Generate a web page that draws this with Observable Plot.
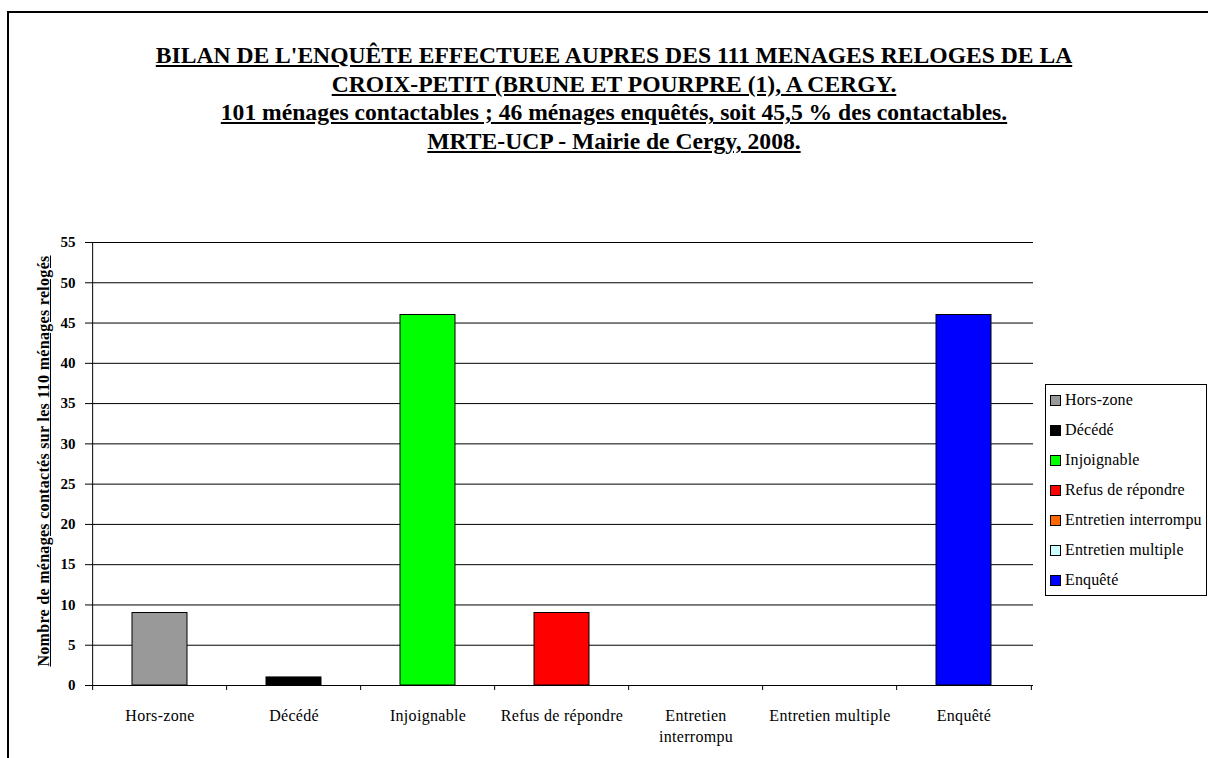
<!DOCTYPE html>
<html>
<head>
<meta charset="utf-8">
<script src="https://cdn.jsdelivr.net/npm/d3@7"></script>
<script src="https://cdn.jsdelivr.net/npm/@observablehq/plot@0.6"></script>
<style>
  html, body { margin: 0; padding: 0; background: #fff; }
  body { width: 1208px; height: 758px; position: relative; overflow: hidden; font-family: "Liberation Serif", "Times New Roman", serif; }
  #frame { position: absolute; left: 7px; top: 11px; width: 1300px; height: 900px; border: 2px solid #000; box-sizing: border-box; }
  #title { position: absolute; left: 8px; width: 1212px; top: 41px; text-align: center; font-weight: bold; font-size: 23.6px; line-height: 28.7px; text-decoration: underline; }
  #chart { position: absolute; left: 0; top: 200px; }
  #ylabel { position: absolute; left: 44px; top: 461px; transform: translate(-50%, -50%) rotate(-90deg); white-space: nowrap; font-weight: bold; font-size: 16px; text-decoration: underline; letter-spacing: 0.3px; }
  #legend { position: absolute; left: 1045px; top: 384px; width: 162px; height: 212px; border: 1px solid #000; box-sizing: border-box; padding-top: 0px; font-size: 16px; letter-spacing: 0.15px; }
  .row { height: 30px; display: flex; align-items: center; padding-left: 4px; }
  .sw { width: 9px; height: 9px; border: 1px solid #000; margin-right: 4px; flex: none; }
  #chart g[aria-label="y-axis tick label"] text { font-weight: bold; font-size: 15px; }
  #chart g[aria-label="x-axis tick label"] text { font-size: 16px; letter-spacing: 0.3px; }
</style>
</head>
<body>
<div id="frame"></div>
<div id="title"></div>
<div id="chart"></div>
<div id="ylabel"></div>
<div id="legend"></div>
<script>
const categories = ["Hors-zone", "Décédé", "Injoignable", "Refus de répondre", "Entretien interrompu", "Entretien multiple", "Enquêté"];
const values = [9, 1, 46, 9, 0, 0, 46];
const colors = ["#999999", "#000000", "#00ff00", "#ff0000", "#ff6600", "#ccffff", "#0000ff"];
const xTickLabels = ["Hors-zone", "Décédé", "Injoignable", "Refus de répondre", "Entretien\ninterrompu", "Entretien multiple", "Enquêté"];
const yTicks = [0, 5, 10, 15, 20, 25, 30, 35, 40, 45, 50, 55];
const titleLines = [
  "BILAN DE L'ENQUÊTE EFFECTUEE AUPRES DES 111 MENAGES RELOGES DE LA",
  "CROIX-PETIT (BRUNE ET POURPRE (1), A CERGY.",
  "101 ménages contactables ; 46 ménages enquêtés, soit 45,5 % des contactables.",
  "MRTE-UCP - Mairie de Cergy, 2008."
];
const yLabel = "Nombre de ménages contactés sur les 110 ménages relogés";

const data = categories.map((c, i) => ({cat: c, value: values[i]}));
const labelMap = new Map(categories.map((c, i) => [c, xTickLabels[i]]));

const W = 1040, H = 550, ML = 90, MR = 7, MT = 42, MB = 65;
const step = (W - ML - MR) / categories.length;

const chart = Plot.plot({
  width: W, height: H,
  marginLeft: ML, marginRight: MR, marginTop: MT, marginBottom: MB,
  style: {fontFamily: "'Liberation Serif', 'Times New Roman', serif", fontSize: "16px", background: "transparent", color: "#000", overflow: "visible"},
  x: {domain: categories, padding: 0.59, paddingOuter: 0.295, label: null},
  y: {domain: [0, 55], label: null},
  color: {domain: categories, range: colors},
  marks: [
    Plot.gridY(yTicks, {stroke: "#000", strokeOpacity: 1, strokeWidth: 1}),
    Plot.barY(data, {x: "cat", y: "value", fill: "cat", stroke: "#000", strokeWidth: 1}),
    Plot.ruleY([0], {stroke: "#000", strokeWidth: 1}),
    Plot.ruleX([categories[0]], {y1: 0, y2: 55, dx: -step / 2, stroke: "#000", strokeWidth: 1}),
    Plot.axisY({ticks: yTicks, tickSize: 5, tickPadding: 10, label: null, fontWeight: "bold", stroke: "#000"}),
    Plot.axisX({ticks: categories, tickSize: 5, tickFormat: () => "", dx: -step / 2, label: null}),
    Plot.axisX({ticks: [categories[categories.length - 1]], tickSize: 5, tickFormat: () => "", dx: step / 2, label: null}),
    Plot.axisX({ticks: categories, tickSize: 0, tickPadding: 20, tickFormat: d => labelMap.get(d), lineHeight: 1.35, label: null})
  ]
});
document.getElementById("chart").appendChild(chart);

d3.select("#title").selectAll("div").data(titleLines).join("div").text(d => d);
d3.select("#ylabel").text(yLabel);
const rows = d3.select("#legend").selectAll("div").data(categories).join("div").attr("class", "row");
rows.append("div").attr("class", "sw").style("background", (d, i) => colors[i]);
rows.append("span").text(d => d);
</script>
</body>
</html>
